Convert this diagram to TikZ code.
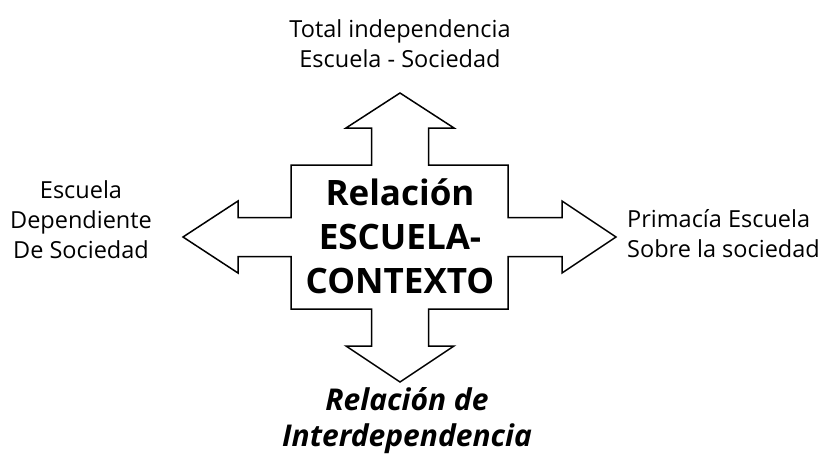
\documentclass[tikz,border=0pt]{standalone}
\usepackage{fontspec}
\setmainfont{Open Sans}
\begin{document}
\begin{tikzpicture}[x=1pt, y=-1pt,
    lbl/.style={font=\fontsize{23.5}{30}\selectfont, align=center, inner sep=0pt},
    centro/.style={font=\fontsize{35}{44}\selectfont\bfseries, align=center, inner sep=0pt},
    pie/.style={font=\fontsize{30}{36}\selectfont\bfseries\itshape, align=center, inner sep=0pt}]
    \useasboundingbox (0,0) rectangle (825,455);
    % Cross of four arrows
    \draw[line width=1.5pt, line join=miter] (400,93) -- (454,128) -- (428.5,128) -- (428.5,165)
      -- (508,165) -- (508,217.5) -- (562,217.5) -- (562,201) -- (616,237) -- (562,273)
      -- (562,256.5) -- (508,256.5) -- (508,309) -- (428.5,309) -- (428.5,346) -- (454,346)
      -- (400,382) -- (346,346) -- (371.5,346) -- (371.5,309) -- (291,309) -- (291,256.5)
      -- (238,256.5) -- (238,273) -- (183,237) -- (238,201) -- (238,217.5) -- (291,217.5)
      -- (291,165) -- (371.5,165) -- (371.5,128) -- (346,128) -- cycle;
    % Labels
    \node[centro] (rel) at (400,236) {Relación\\ESCUELA-\\CONTEXTO};
    \node[lbl] (arriba) at (400,44) {Total independencia\\Escuela - Sociedad};
    \node[lbl] (izq) at (81,220) {Escuela\\Dependiente\\De Sociedad};
    \node[lbl, align=left, anchor=west] (der) at (627,234) {Primacía Escuela\\Sobre la sociedad};
    \node[pie] (abajo) at (407,421) {Relación de\\Interdependencia};
\end{tikzpicture}
\end{document}
